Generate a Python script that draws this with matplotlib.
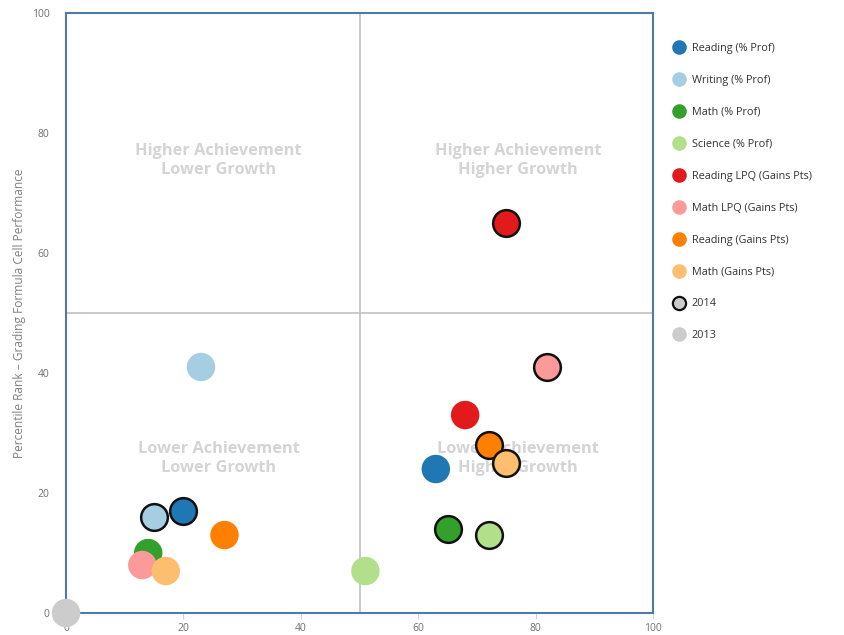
import matplotlib
matplotlib.use("Agg")
import matplotlib.pyplot as plt
from matplotlib.lines import Line2D

plt.rcParams['font.family'] = ['Open Sans', 'DejaVu Sans']

series = ["Reading (% Prof)", "Writing (% Prof)", "Math (% Prof)", "Science (% Prof)",
          "Reading LPQ (Gains Pts)", "Math LPQ (Gains Pts)", "Reading (Gains Pts)", "Math (Gains Pts)"]
colors = ["#1f78b4", "#a6cee3", "#33a02c", "#b2df8a", "#e31a1c", "#fb9a99", "#ff7f00", "#fdbf6f"]
x2013 = [63, 23, 14, 51, 68, 13, 27, 17]
y2013 = [24, 41, 10, 7, 33, 8, 13, 7]
x2014 = [20, 15, 65, 72, 75, 82, 72, 75]
y2014 = [17, 16, 14, 13, 65, 41, 28, 25]
year_labels = ["2014", "2013"]
quadrants = [("Higher Achievement\nLower Growth", 26, 75.5),
             ("Higher Achievement\nHigher Growth", 77, 75.5),
             ("Lower Achievement\nLower Growth", 26, 25.7),
             ("Lower Achievement\nHigher Growth", 77, 25.7)]
xticks = [0, 20, 40, 60, 80, 100]
yticks = [0, 20, 40, 60, 80, 100]

fig = plt.figure(figsize=(8.44, 6.35), dpi=100)
ax = fig.add_axes([0.0782, 0.0346, 0.6955, 0.9449])
ax.set_xlim(0, 100)
ax.set_ylim(0, 100)

ax.axvline(50, color="#c0c0c0", lw=1.2, zorder=1)
ax.axhline(50, color="#c0c0c0", lw=1.2, zorder=1)

for label, qx, qy in quadrants:
    ax.text(qx, qy, label, ha="center", va="center", fontsize=11.8, fontweight="bold",
            color="#d4d4d4", linespacing=1.25, zorder=2)

S = 420
z = 3
for i in range(len(series)):
    ax.scatter([x2013[i]], [y2013[i]], s=S, color=colors[i], edgecolors="none", zorder=z)
    z += 1
for i in range(len(series)):
    ax.scatter([x2014[i]], [y2014[i]], s=S * 0.88, color=colors[i], edgecolors="#111111",
               linewidths=1.8, zorder=z)
    z += 1
ax.scatter([0], [0], s=S, color="#cccccc", edgecolors="none", zorder=z, clip_on=False)

for side in ax.spines.values():
    side.set_color("#4f7aa8")
    side.set_linewidth(1.5)

ax.set_xticks(xticks)
ax.set_yticks(yticks)
ax.tick_params(axis="both", labelsize=7.5, labelcolor="#707070")
ax.tick_params(axis="x", length=4, color="#c8d6e6", pad=3)
ax.tick_params(axis="y", length=0, pad=12)
ax.set_ylabel("Percentile Rank \u2013 Grading Formula Cell Performance", fontsize=8.6,
              color="#808080", labelpad=4)

handles = []
for i, name in enumerate(series):
    handles.append(Line2D([], [], ls="none", marker="o", markersize=10.5, markerfacecolor=colors[i],
                          markeredgecolor="none", label=name))
handles.append(Line2D([], [], ls="none", marker="o", markersize=9.5, markerfacecolor="#cccccc",
                      markeredgecolor="#111111", markeredgewidth=1.6, label=year_labels[0]))
handles.append(Line2D([], [], ls="none", marker="o", markersize=10.5, markerfacecolor="#cccccc",
                      markeredgecolor="none", label=year_labels[1]))
leg = fig.legend(handles=handles, loc="upper left", bbox_to_anchor=(0.792, 0.939),
                 frameon=False, fontsize=7.8, labelspacing=1.93, handletextpad=0.55,
                 handlelength=1.2, borderaxespad=0)
for t in leg.get_texts():
    t.set_color("#333333")

fig.savefig("out.png", dpi=100)
